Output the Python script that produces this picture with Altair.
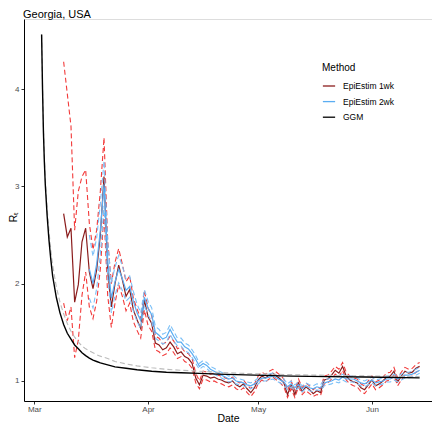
import altair as alt
import pandas as pd

# ---------------- data ----------------
chart_title = "Georgia, USA"

# EpiEstim 1wk : daily from 2020-03-09
ep1_start = "2020-03-09"
ep1_mean = [2.72, 2.48, 2.57, 1.81, 1.99, 2.43, 2.57, 2.12, 1.95, 2.14,
            2.50, 3.10, 2.14, 1.76, 2.00, 2.19, 2.04, 1.87, 1.94, 1.73,
            1.63, 1.54, 1.83, 1.66, 1.59, 1.39, 1.37, 1.32, 1.34, 1.40,
            1.35, 1.28, 1.30, 1.25, 1.23, 1.18, 1.03, 0.96, 1.06, 1.05,
            1.03, 1.04, 1.02, 1.01, 0.99, 0.98, 1.00, 0.96, 0.94, 0.97,
            0.92, 0.88, 0.93, 1.01, 1.05, 1.03, 1.06, 1.08, 1.05, 1.02,
            0.98, 0.86, 0.96, 0.86, 0.98, 0.89, 0.94, 0.91, 0.87, 0.90,
            0.88, 1.01, 1.02, 1.06, 1.11, 1.08, 1.15, 1.05, 1.01, 0.99,
            0.98, 0.93, 0.91, 0.96, 1.01, 0.95, 0.97, 1.00, 1.04, 1.05,
            1.10, 0.99, 1.05, 1.10, 1.08, 1.09, 1.13, 1.15]
ep1_lower = [1.80, 1.62, 1.76, 1.24, 1.42, 1.88, 2.12, 1.76, 1.64, 1.82,
             2.15, 2.72, 1.88, 1.55, 1.80, 1.99, 1.87, 1.72, 1.80, 1.61,
             1.52, 1.44, 1.73, 1.57, 1.51, 1.32, 1.30, 1.26, 1.28, 1.34,
             1.29, 1.23, 1.25, 1.20, 1.18, 1.13, 0.98, 0.92, 1.02, 1.01,
             0.99, 1.00, 0.98, 0.97, 0.95, 0.94, 0.96, 0.92, 0.90, 0.93,
             0.88, 0.84, 0.89, 0.97, 1.01, 0.99, 1.02, 1.04, 1.01, 0.98,
             0.94, 0.83, 0.92, 0.83, 0.94, 0.86, 0.90, 0.87, 0.84, 0.86,
             0.85, 0.97, 0.98, 1.02, 1.07, 1.04, 1.11, 1.01, 0.97, 0.95,
             0.94, 0.89, 0.87, 0.92, 0.97, 0.91, 0.93, 0.96, 1.00, 1.01,
             1.06, 0.95, 1.01, 1.06, 1.04, 1.05, 1.09, 1.11]
ep1_upper = [4.28, 3.95, 3.62, 2.55, 2.95, 3.10, 3.17, 2.62, 2.35, 2.55,
             2.95, 3.50, 2.45, 2.00, 2.22, 2.36, 2.20, 2.02, 2.08, 1.85,
             1.74, 1.64, 1.93, 1.75, 1.67, 1.46, 1.44, 1.38, 1.40, 1.46,
             1.41, 1.33, 1.35, 1.30, 1.28, 1.23, 1.08, 1.00, 1.10, 1.09,
             1.07, 1.08, 1.06, 1.05, 1.03, 1.02, 1.04, 1.00, 0.98, 1.01,
             0.96, 0.92, 0.97, 1.05, 1.09, 1.07, 1.10, 1.12, 1.09, 1.06,
             1.02, 0.90, 1.00, 0.90, 1.02, 0.93, 0.98, 0.95, 0.91, 0.94,
             0.92, 1.05, 1.06, 1.10, 1.15, 1.12, 1.19, 1.09, 1.05, 1.03,
             1.02, 0.97, 0.95, 1.00, 1.05, 0.99, 1.01, 1.04, 1.08, 1.09,
             1.14, 1.03, 1.09, 1.14, 1.12, 1.13, 1.17, 1.19]

# EpiEstim 2wk : daily from 2020-03-16
ep2_start = "2020-03-16"
ep2_mean = [2.15, 2.00, 2.20, 2.55, 3.02, 2.25, 1.85, 2.02, 2.15, 2.05,
            1.93, 1.97, 1.82, 1.70, 1.62, 1.86, 1.75, 1.68, 1.50, 1.47,
            1.43, 1.45, 1.53, 1.46, 1.40, 1.40, 1.35, 1.33, 1.28, 1.22,
            1.15, 1.18, 1.16, 1.12, 1.10, 1.08, 1.06, 1.04, 1.02, 1.03,
            1.00, 0.99, 0.98, 0.96, 0.95, 0.97, 1.00, 1.03, 1.03, 1.04,
            1.05, 1.03, 1.01, 0.99, 0.94, 0.97, 0.93, 0.96, 0.92, 0.95,
            0.93, 0.92, 0.94, 0.93, 0.98, 0.99, 1.00, 1.02, 1.01, 1.04,
            1.02, 1.02, 1.02, 1.00, 0.98, 0.97, 0.99, 1.01, 0.98, 0.99,
            1.00, 1.02, 1.02, 1.04, 1.02, 1.04, 1.06, 1.06, 1.07, 1.09,
            1.11]
ep2_lower = [1.85, 1.75, 1.95, 2.30, 2.80, 2.07, 1.70, 1.88, 2.01, 1.93,
             1.82, 1.86, 1.72, 1.61, 1.54, 1.78, 1.68, 1.61, 1.44, 1.41,
             1.38, 1.40, 1.48, 1.41, 1.36, 1.36, 1.31, 1.29, 1.24, 1.18,
             1.12, 1.15, 1.13, 1.09, 1.07, 1.05, 1.03, 1.01, 0.99, 1.00,
             0.97, 0.96, 0.95, 0.93, 0.92, 0.94, 0.97, 1.00, 1.00, 1.01,
             1.02, 1.00, 0.98, 0.96, 0.91, 0.94, 0.90, 0.93, 0.89, 0.92,
             0.90, 0.89, 0.91, 0.90, 0.95, 0.96, 0.97, 0.99, 0.98, 1.01,
             0.99, 0.99, 0.99, 0.97, 0.95, 0.94, 0.96, 0.98, 0.95, 0.96,
             0.97, 0.99, 0.99, 1.01, 0.99, 1.01, 1.03, 1.03, 1.04, 1.06,
             1.08]
ep2_upper = [2.50, 2.28, 2.47, 2.82, 3.26, 2.44, 2.01, 2.17, 2.29, 2.18,
             2.05, 2.08, 1.92, 1.79, 1.70, 1.94, 1.82, 1.75, 1.56, 1.53,
             1.48, 1.50, 1.58, 1.51, 1.44, 1.44, 1.39, 1.37, 1.32, 1.26,
             1.18, 1.21, 1.19, 1.15, 1.13, 1.11, 1.09, 1.07, 1.05, 1.06,
             1.03, 1.02, 1.01, 0.99, 0.98, 1.00, 1.03, 1.06, 1.06, 1.07,
             1.08, 1.06, 1.04, 1.02, 0.97, 1.00, 0.96, 0.99, 0.95, 0.98,
             0.96, 0.95, 0.97, 0.96, 1.01, 1.02, 1.03, 1.05, 1.04, 1.07,
             1.05, 1.05, 1.05, 1.03, 1.01, 1.00, 1.02, 1.04, 1.01, 1.02,
             1.03, 1.05, 1.05, 1.07, 1.05, 1.07, 1.09, 1.09, 1.10, 1.12,
             1.14]

# GGM : days after 2020-03-01
ggm_day = [2.0, 2.25, 2.5, 2.75, 3.0, 3.5, 4.0, 4.5, 5, 6, 7, 8, 9, 10, 11,
           12, 13, 14, 15, 16, 17, 18, 20, 22, 25, 28, 32, 36, 40, 45, 50,
           55, 60, 70, 80, 90, 105]
ggm_mean = [4.56, 4.00, 3.55, 3.25, 3.02, 2.70, 2.45, 2.25, 2.08, 1.86,
            1.70, 1.58, 1.49, 1.43, 1.37, 1.33, 1.29, 1.26, 1.235, 1.215,
            1.20, 1.185, 1.165, 1.145, 1.13, 1.115, 1.10, 1.09, 1.085,
            1.078, 1.07, 1.065, 1.06, 1.05, 1.045, 1.04, 1.032]
ggm_upper = [4.56, 4.02, 3.60, 3.30, 3.08, 2.78, 2.54, 2.35, 2.19, 1.97,
             1.81, 1.69, 1.59, 1.51, 1.45, 1.40, 1.36, 1.33, 1.31, 1.29,
             1.27, 1.255, 1.23, 1.20, 1.175, 1.155, 1.135, 1.12, 1.11,
             1.10, 1.09, 1.08, 1.075, 1.065, 1.058, 1.052, 1.045]

methods = ["EpiEstim 1wk", "EpiEstim 2wk", "GGM"]
method_colors = ["#8B1C1C", "#5AADF2", "#000000"]
y_ticks = [1, 2, 3, 4]

# ---------------- tables ----------------
FMT = "%Y-%m-%dT%H:%M:%S"


def daily(start, n):
    return [d.strftime(FMT) for d in pd.date_range(start, periods=n, freq="D")]


d1 = daily(ep1_start, len(ep1_mean))
d2 = daily(ep2_start, len(ep2_mean))
base = pd.Timestamp("2020-03-01")
dg = [(base + pd.Timedelta(days=d)).strftime(FMT) for d in ggm_day]

solid1 = pd.DataFrame({"date": d1, "value": ep1_mean, "method": methods[0]})
solid2 = pd.DataFrame({"date": d2, "value": ep2_mean, "method": methods[1]})
solidg = pd.DataFrame({"date": dg, "value": ggm_mean, "method": methods[2]})

ci1 = pd.concat([
    pd.DataFrame({"date": d1, "value": ep1_lower, "bound": "lower"}),
    pd.DataFrame({"date": d1, "value": ep1_upper, "bound": "upper"}),
])
ci2 = pd.concat([
    pd.DataFrame({"date": d2, "value": ep2_lower, "bound": "lower"}),
    pd.DataFrame({"date": d2, "value": ep2_upper, "bound": "upper"}),
])
cig = pd.DataFrame({"date": dg, "value": ggm_upper, "bound": "upper"})
title_df = pd.DataFrame({"t": [chart_title]})

# ---------------- chart ----------------
FONT = "Liberation Sans"

x_enc = alt.X(
    "date:T",
    title="Date",
    scale=alt.Scale(domain=[
        alt.DateTime(year=2020, month=2, date=27, hours=4, minutes=48),
        alt.DateTime(year=2020, month=6, date=17, hours=8, minutes=53),
    ]),
    axis=alt.Axis(
        values=[alt.DateTime(year=2020, month=m, date=1) for m in (3, 4, 5, 6)],
        format="%b", labelFontSize=8, labelColor="#4D4D4D", tickSize=3,
        tickColor="#333333", domainColor="#000000", domainWidth=1,
        labelPadding=1, titleFontSize=10.5, titleFontWeight="normal",
        titleColor="#000000", titlePadding=0, grid=False, labelFont=FONT,
        titleFont=FONT,
    ),
)
y_enc = alt.Y(
    "value:Q",
    title="Rₜ",
    scale=alt.Scale(domain=[0.794, 4.72], nice=False, zero=False),
    axis=alt.Axis(
        values=y_ticks, format="d", labelFontSize=8, labelColor="#4D4D4D",
        tickSize=3, tickColor="#333333", domainColor="#000000",
        domainWidth=1, labelPadding=2, titleFontSize=10.5,
        titleFontWeight="normal", titleColor="#000000", grid=False,
        titleX=-16, titleY=198, titleAngle=-90, titleAlign="center",
        titleBaseline="top", labelFont=FONT, titleFont=FONT,
    ),
)

color_scale = alt.Scale(domain=methods, range=method_colors)
legend = alt.Legend(
    orient="none", legendX=298, legendY=44, title="Method",
    titleFontSize=10, titleFontWeight="normal", titleColor="#000000",
    titleFont=FONT, labelFont=FONT, labelFontSize=8.5,
    labelColor="#000000", symbolType="stroke", symbolSize=150,
    symbolStrokeWidth=1.3, rowPadding=3.6, titlePadding=6, labelOffset=7,
)
col = alt.Color("method:N", scale=color_scale, legend=legend)

layer_ci1 = alt.Chart(ci1).mark_line(
    color="#F23A3A", strokeDash=[5, 3], strokeWidth=1.1
).encode(x=x_enc, y=y_enc, detail="bound:N")
layer_s1 = alt.Chart(solid1).mark_line(strokeWidth=1.2).encode(
    x=x_enc, y=y_enc, color=col)
layer_ci2 = alt.Chart(ci2).mark_line(
    color="#7CC0F7", strokeDash=[5, 3], strokeWidth=1.1
).encode(x=x_enc, y=y_enc, detail="bound:N")
layer_s2 = alt.Chart(solid2).mark_line(strokeWidth=1.2).encode(
    x=x_enc, y=y_enc, color=col)
layer_cig = alt.Chart(cig).mark_line(
    color="#BBBBBB", strokeDash=[5, 3], strokeWidth=1.1
).encode(x=x_enc, y=y_enc, detail="bound:N")
layer_g = alt.Chart(solidg).mark_line(strokeWidth=1.4).encode(
    x=x_enc, y=y_enc, color=col)
layer_title = alt.Chart(title_df).mark_text(
    align="left", baseline="alphabetic", fontSize=11, font=FONT,
    color="#000000",
).encode(text="t:N", x=alt.value(-1), y=alt.value(-1.5))

chart = alt.layer(
    layer_ci1, layer_s1, layer_ci2, layer_s2, layer_cig, layer_g, layer_title
).properties(
    width=408,
    height=382,
    autosize=alt.AutoSizeParams(type="none"),
    padding={"left": 16, "top": 11, "right": 0, "bottom": 21},
).configure_view(stroke=None).configure(font=FONT)

chart.save("out.html", embed_options={"renderer": "svg", "actions": False})
